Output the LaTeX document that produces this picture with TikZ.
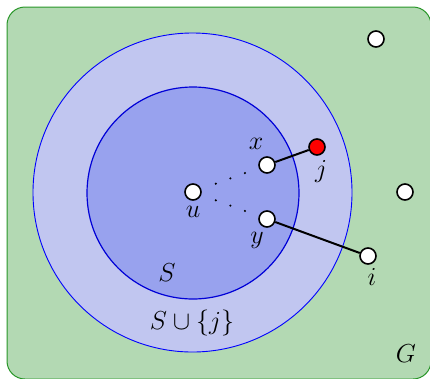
\RequirePackage{fix-cm}
\documentclass[tikz,border=0pt]{standalone}
\definecolor{gfill}{RGB}{179,217,179}
\definecolor{gline}{RGB}{40,150,40}
\definecolor{bouter}{RGB}{193,198,240}
\definecolor{binner}{RGB}{152,162,238}
\definecolor{binline}{RGB}{0,0,215}
\tikzset{
  vtx/.style={circle, draw=black, line width=1.6pt, fill=white, minimum size=16pt, inner sep=0pt},
  redvtx/.style={vtx, fill=red},
  lbl/.style={inner sep=0pt, font=\fontsize{26}{31}\selectfont},
  edge/.style={line width=2pt, black},
  dotpath/.style={line width=2.4pt, line cap=round, dash pattern=on 0pt off 15.5pt, shorten <=15.5pt, shorten >=12pt},
}
\begin{document}
\begin{tikzpicture}[x=1pt,y=-1pt]
\useasboundingbox (0,0) rectangle (430,378);
\draw[gline, fill=gfill, line width=1pt, rounded corners=18pt] (7,7) rectangle (431,379);
\draw[blue, fill=bouter, line width=0.9pt] (192.5,192.5) circle[radius=159.5pt];
\draw[binline, fill=binner, line width=1.2pt] (193,193) circle[radius=106pt];
\node[vtx] (u) at (193,192) {};
\node[vtx] (x) at (267,165) {};
\node[redvtx] (j) at (317,147) {};
\node[vtx] (y) at (267,219) {};
\node[vtx] (i) at (368,256) {};
\node[vtx] (t) at (376,39) {};
\node[vtx] (r) at (405,192) {};
\draw[edge] (x) -- (j);
\draw[edge] (y) -- (i);
\draw[dotpath] (u) -- (x);
\draw[dotpath] (u) -- (y);
\node[lbl] (lx) at (256,144) {$x$};
\node[lbl] (lj) at (321,171) {$j$};
\node[lbl] (lu) at (193,212) {$u$};
\node[lbl] (ly) at (257,240) {$y$};
\node[lbl] (li) at (372,277) {$i$};
\node[lbl] (lS) at (167,273) {$S$};
\node[lbl] (lSj) at (192,323) {$S\cup\{j\}$};
\node[lbl] (lG) at (406,354) {$G$};
\end{tikzpicture}
\end{document}
